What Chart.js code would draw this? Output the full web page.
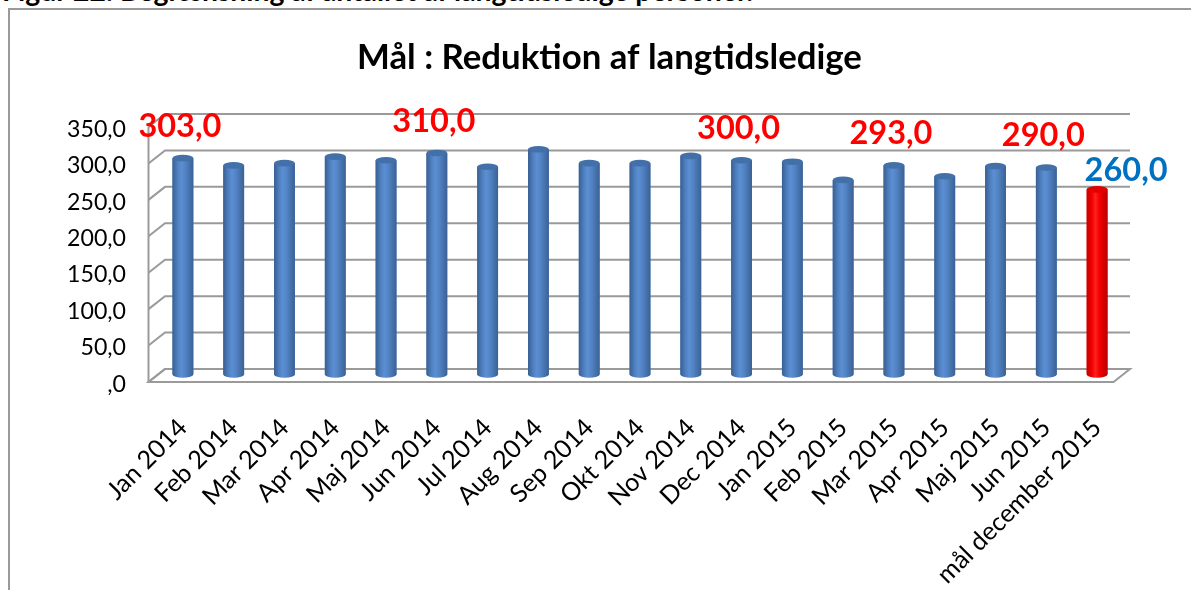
<!DOCTYPE html>
<html><head><meta charset="utf-8">
<script src="https://cdn.jsdelivr.net/npm/chart.js@4.4.1/dist/chart.umd.min.js"></script>
<style>
html,body{margin:0;padding:0;background:#fff;overflow:hidden;}
#wrap{position:relative;width:1191px;height:590px;overflow:hidden;}
#frame{position:absolute;left:8px;top:8px;width:1300px;height:700px;border-left:2px solid #9a9a9a;border-top:2px solid #9a9a9a;}
#hdr{position:absolute;left:2px;white-space:nowrap;font-weight:700;color:#000;}
canvas{position:absolute;left:0;top:0;}
</style></head><body>
<div id="wrap">
<div id="hdr">Figur 22: Begrænsning af antallet af langtidsledige personer.</div>
<div id="frame"></div>
<canvas id="c" width="1191" height="590"></canvas>
</div>
<script>
// ---- data ----
const categories = ['Jan 2014','Feb 2014','Mar 2014','Apr 2014','Maj 2014','Jun 2014','Jul 2014','Aug 2014','Sep 2014','Okt 2014','Nov 2014','Dec 2014','Jan 2015','Feb 2015','Mar 2015','Apr 2015','Maj 2015','Jun 2015','mål december 2015'];
const values = [303, 293, 296, 305, 300, 310, 291, 315, 296, 296, 306, 300, 298, 273, 293, 278, 292, 290, 260];
const labeledIndices = [0, 5, 11, 14, 17, 18];
const targetIndex = 18;
const yMin = 0, yMax = 350, yStep = 50;
const chartTitle = 'Mål : Reduktion af langtidsledige';

// ---- style ----
const FONT = 'Lato';
const BLUE = {stops:['#395f92','#4f80c0','#5b8fd3','#5283c4','#3a6194'], cap:'#4370a8', solid:'#4f81bd'};
const RED  = {stops:['#c40000','#f20000','#ff2020','#f00000','#bd0000'], cap:'#e00000', solid:'#ff0000'};
const GRID = '#9a9a9a';
const depth = {bdx: 7.5, bdy: -9.8, fdx: -9, fdy: 3.2};
const capH = 3.3;

function fmt(v){ let s = v.toFixed(1).replace('.', ','); if (s.startsWith('0')) s = s.slice(1); return s; }

function build(){
  const mc = document.createElement('canvas').getContext('2d');
  const fit = (text, weight, target) => { mc.font = weight + ' 100px ' + FONT; return 100 * target / mc.measureText(text).width; };
  const titleSize = fit(chartTitle, 'bold', 505);
  const yTickSize = fit('350,0', 'normal', 59);
  const xTickSize = fit('mål december 2015', 'normal', 220);
  const dlSize = fit('303,0', 'bold', 83);
  const hdrSize = fit('Figur 22: Begrænsning af antallet af langtidsledige personer.', 'bold', 753);

  const hdr = document.getElementById('hdr');
  hdr.style.fontFamily = FONT; hdr.style.fontSize = hdrSize + 'px'; hdr.style.lineHeight = hdrSize + 'px';
  hdr.style.top = (1 - 0.887 * hdrSize) + 'px';

  const padL = 40, padR = 68.5;
  const areaTop = 123.8, areaBottom = 378.8, areaLeft = 157.5;

  const titleDraw = {
    id: 'titleDraw',
    afterDraw(chart){
      const ctx = chart.ctx;
      ctx.save();
      ctx.font = 'bold ' + titleSize + 'px ' + FONT;
      ctx.fillStyle = '#000'; ctx.textAlign = 'center'; ctx.textBaseline = 'alphabetic';
      ctx.fillText(chartTitle, 609.5, 69);
      ctx.restore();
    }
  };

  const frame3d = {
    id: 'frame3d',
    beforeDatasetsDraw(chart){
      const {ctx, chartArea: a, scales: {y}} = chart;
      const L = a.left, R = a.right, d = depth;
      const y0 = y.getPixelForValue(yMin);
      ctx.save();
      ctx.strokeStyle = GRID; ctx.lineWidth = 2; ctx.lineJoin = 'miter';
      ctx.beginPath();
      ctx.moveTo(L + d.fdx, y0 + d.fdy); ctx.lineTo(R + d.fdx, y0 + d.fdy);
      ctx.lineTo(R + d.bdx, y0 + d.bdy); ctx.lineTo(L + d.bdx, y0 + d.bdy); ctx.closePath();
      ctx.fillStyle = '#ffffff'; ctx.fill(); ctx.stroke();
      y.ticks.forEach(t => {
        const py = y.getPixelForValue(t.value);
        ctx.beginPath();
        ctx.moveTo(L + d.fdx, py + d.fdy); ctx.lineTo(L + d.bdx, py + d.bdy); ctx.lineTo(R + d.bdx, py + d.bdy);
        ctx.stroke();
      });
      ctx.beginPath();
      ctx.moveTo(L + d.fdx, y.getPixelForValue(yMax) + d.fdy); ctx.lineTo(L + d.fdx, y0 + d.fdy);
      ctx.stroke();
      ctx.restore();
    }
  };

  const cylinders = {
    id: 'cylinders',
    afterDatasetsDraw(chart){
      const ctx = chart.ctx;
      const meta = chart.getDatasetMeta(0);
      ctx.save();
      meta.data.forEach((el, i) => {
        const p = el.getProps(['x','y','base','width'], true);
        const hw = p.width / 2, x = p.x, top = p.y, base = p.base;
        const pal = i === targetIndex ? RED : BLUE;
        const g = ctx.createLinearGradient(x - hw, 0, x + hw, 0);
        [0, 0.25, 0.42, 0.62, 1].forEach((s, k) => g.addColorStop(s, pal.stops[k]));
        ctx.fillStyle = g;
        ctx.beginPath();
        ctx.moveTo(x - hw, top); ctx.lineTo(x - hw, base);
        ctx.ellipse(x, base, hw, capH, 0, Math.PI, 0, true);
        ctx.lineTo(x + hw, top); ctx.closePath(); ctx.fill();
        ctx.beginPath(); ctx.ellipse(x, top, hw, capH, 0, 0, Math.PI * 2);
        ctx.fillStyle = pal.cap; ctx.fill();
      });
      ctx.restore();
    }
  };

  const dataLabels = {
    id: 'dataLabels',
    afterDatasetsDraw(chart){
      const ctx = chart.ctx;
      const meta = chart.getDatasetMeta(0);
      ctx.save();
      ctx.font = 'bold ' + dlSize + 'px ' + FONT;
      ctx.textAlign = 'center'; ctx.textBaseline = 'alphabetic';
      labeledIndices.forEach(i => {
        const el = meta.data[i];
        if (i === targetIndex) { ctx.fillStyle = '#0070c0'; ctx.fillText(fmt(values[i]), el.x + 29, el.y - 8.5); }
        else { ctx.fillStyle = '#ff0000'; ctx.fillText(fmt(values[i]), el.x - 3, el.y - 21.3); }
      });
      ctx.restore();
    }
  };

  new Chart(document.getElementById('c'), {
    type: 'bar',
    data: {
      labels: categories,
      datasets: [{
        data: values,
        base: 6,
        backgroundColor: categories.map((c, i) => i === targetIndex ? RED.solid : BLUE.solid),
        borderWidth: 0,
        categoryPercentage: 1,
        barPercentage: 0.41
      }]
    },
    options: {
      responsive: false,
      animation: false,
      events: [],
      layout: { padding: { left: padL, right: padR, top: areaTop, bottom: 0 } },
      plugins: {
        legend: { display: false },
        tooltip: { enabled: false },
        title: { display: false }
      },
      scales: {
        x: {
          type: 'category', offset: true,
          grid: { display: false, drawTicks: false }, border: { display: false },
          ticks: {
            autoSkip: false, minRotation: 45, maxRotation: 45, padding: 34, color: '#000',
            font: { family: FONT, size: xTickSize }
          },
          afterFit: s => { s.height = 590 - areaBottom; }
        },
        y: {
          min: yMin, max: yMax,
          grid: { display: false, drawTicks: false }, border: { display: false },
          ticks: {
            stepSize: yStep, padding: 31.5, labelOffset: 5.5, color: '#000',
            font: { family: FONT, size: yTickSize },
            callback: v => fmt(v)
          },
          afterFit: s => { s.width = areaLeft - padL; }
        }
      }
    },
    plugins: [frame3d, cylinders, dataLabels, titleDraw]
  });
}

const loads = [document.fonts.load('bold 30px ' + FONT), document.fonts.load('30px ' + FONT)];
Promise.all(loads).then(build, build);
</script>
</body></html>
